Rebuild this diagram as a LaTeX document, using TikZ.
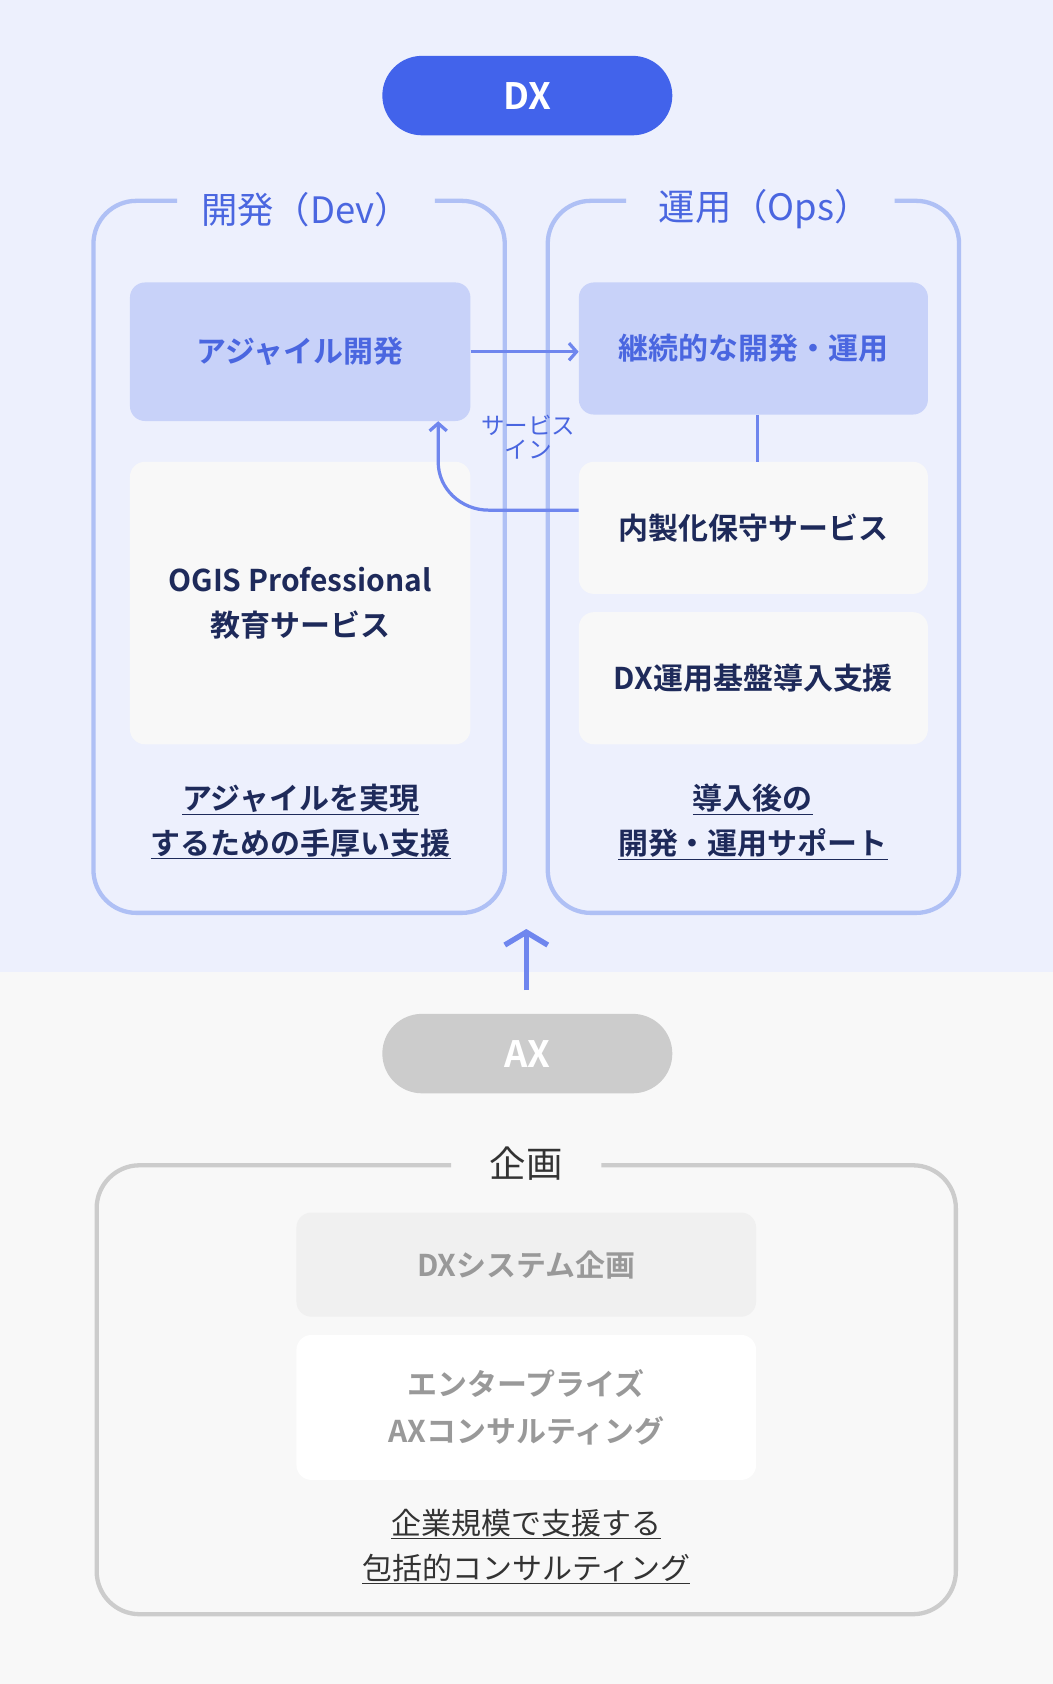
\documentclass[tikz,border=0pt]{standalone}
\usepackage{fontspec}
\setmainfont{Noto Sans CJK JP}[BoldFont={* Bold}]
\usetikzlibrary{positioning,arrows.meta,calc}
\definecolor{dxblue}{HTML}{4263EB}
\definecolor{titleblue}{HTML}{4A66E0}
\definecolor{framblue}{HTML}{AFC0F5}
\definecolor{boxblue}{HTML}{C8D2F9}
\definecolor{arrblue}{HTML}{6F86EE}
\definecolor{navy}{HTML}{1E2A5A}
\definecolor{topbg}{HTML}{EDF0FD}
\definecolor{botbg}{HTML}{F8F8F8}
\tikzset{
  pill/.style={rounded corners=37bp, minimum width=270bp, minimum height=74bp, text=white, font=\bfseries\fontsize{34}{38}\selectfont},
  bluebox/.style={fill=boxblue, rounded corners=14bp, text=titleblue, font=\bfseries\fontsize{28}{36}\selectfont, align=center},
  greybox/.style={fill=botbg, rounded corners=14bp, text=navy, font=\bfseries\fontsize{28}{42}\selectfont, align=center},
  axbox/.style={rounded corners=14bp, text=black!40, font=\bfseries\fontsize{28}{44}\selectfont, align=center},
  frametitle/.style={font=\fontsize{34}{38}\selectfont},
  note/.style={font=\bfseries\fontsize{28}{42}\selectfont, align=center},
  conn/.style={arrblue, line width=3bp},
}
\begin{document}
\begin{tikzpicture}[x=1bp,y=-1bp]
        % backgrounds
        \fill[topbg] (0,0) rectangle (980,905);
        \fill[botbg] (0,905) rectangle (980,1568);
        \useasboundingbox (0,0) rectangle (980,1568);

        %-----DX-----
        \node[pill, fill=dxblue] (dx) at (491,89) {DX};

        % Dev frame
        \draw[framblue, line width=4bp, rounded corners=40bp] (405,187) -- (470,187) -- (470,850) -- (87,850) -- (87,187) -- (165,187);
        \node[frametitle, text=titleblue] (devtitle) at (285,195) {開発（Dev）};

        % Ops frame
        \draw[framblue, line width=4bp, rounded corners=40bp] (833,187) -- (893,187) -- (893,850) -- (510,850) -- (510,187) -- (583,187);
        \node[frametitle, text=titleblue] (opstitle) at (712,195) {運用（Ops）};

        % Dev boxes
        \node[bluebox, minimum width=317bp, minimum height=129bp] (agile) at (279.5,327.5) {アジャイル開発};
        \node[greybox, minimum width=317bp, minimum height=263bp] (ogis) at (279.5,561.5) {OGIS Professional\\教育サービス};

        % Ops boxes
        \node[bluebox, minimum width=325bp, minimum height=123bp] (cont) at (701.5,324.5) {継続的な開発・運用};
        \node[greybox, minimum width=325bp, minimum height=123bp] (naisei) at (701.5,491.5) {内製化保守サービス};
        \node[greybox, minimum width=325bp, minimum height=123bp] (kiban) at (701.5,631.5) {DX運用基盤導入支援};

        % connectors
        \draw[conn] (cont.south -| 705,0) -- (naisei.north -| 705,0);
        \draw[conn, -{Straight Barb[length=7bp,width=16bp]}] (agile.east) -- (cont.west |- agile.east);
        \draw[conn, -{Straight Barb[length=7bp,width=16bp]}] (naisei.west |- 0,475) -- (455,475) to[out=180,in=-90] (408,430) -- (agile.south -| 408,0);
        \node[text=titleblue, font=\fontsize{22}{22}\selectfont, align=center] (svin) at (492,407) {サービス\\イン};

        % notes
        \node[note, text=navy] (devnote) at (280,765) {\underline{アジャイルを実現}\\\underline{するための手厚い支援}};
        \node[note, text=navy] (opsnote) at (701,765) {\underline{導入後の}\\\underline{開発・運用サポート}};

        %-----AX-----
        \node[pill, fill=black!20] (ax) at (491,981) {AX};
        \coordinate (uptop) at (490,865);
        \draw[conn, line width=5bp, -{Straight Barb[length=12bp,width=40bp]}] (490,922) -- (uptop);

        % planning frame
        \draw[black!20, line width=4bp, rounded corners=40bp] (560,1085) -- (890,1085) -- (890,1503) -- (90,1503) -- (90,1085) -- (420,1085);
        \node[frametitle, text=black!80] (kikaku) at (490,1083) {企画};
        \node[axbox, fill=black!6, minimum width=428bp, minimum height=97bp] (dxsys) at (490,1177.5) {DXシステム企画};
        \node[axbox, fill=white, minimum width=428bp, minimum height=135bp] (ent) at (490,1310.5) {エンタープライズ\\AXコンサルティング};
        \node[font=\fontsize{28}{42}\selectfont, align=center, text=black!80] (axnote) at (490,1440) {\underline{企業規模で支援する}\\\underline{包括的コンサルティング}};
\end{tikzpicture}
\end{document}
